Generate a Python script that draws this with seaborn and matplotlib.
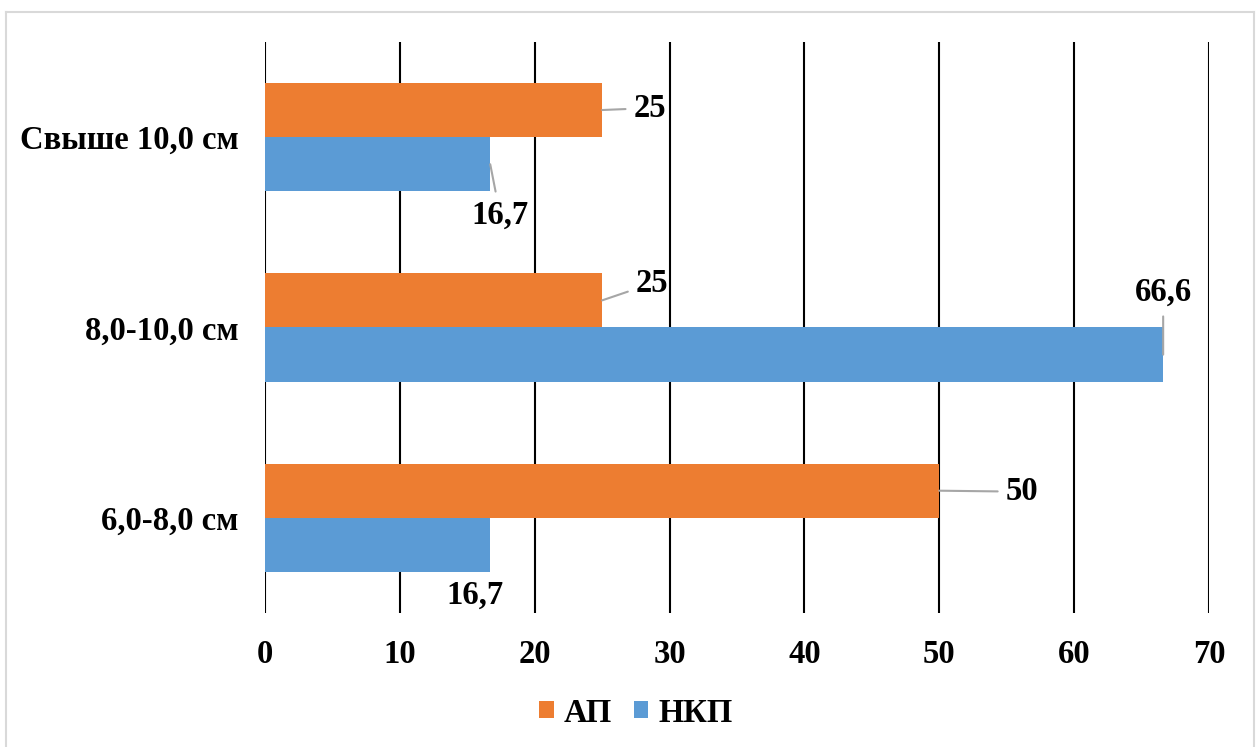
import pandas as pd
import matplotlib.pyplot as plt
import seaborn as sns
from matplotlib.patches import Patch

# data
categories = ["Свыше 10,0 см", "8,0-10,0 см", "6,0-8,0 см"]
series_names = ["АП", "НКП"]
ap_values = [25, 25, 50]
nkp_values = [16.7, 66.6, 16.7]
ap_labels = ["25", "25", "50"]
nkp_labels = ["16,7", "66,6", "16,7"]
x_ticks = [0, 10, 20, 30, 40, 50, 60, 70]

colors = {"АП": "#ED7D31", "НКП": "#5B9BD5"}

df = pd.DataFrame({
    "Категория": categories * 2,
    "Серия": [series_names[0]] * 3 + [series_names[1]] * 3,
    "Значение": ap_values + nkp_values,
})

plt.rcParams["font.family"] = ["Liberation Serif", "DejaVu Serif"]
plt.rcParams["font.weight"] = "bold"
FS = 23.5

fig = plt.figure(figsize=(12.59, 7.47), dpi=100)
ax = fig.add_axes([0.2105, 0.1794, 0.7498, 0.7644])

sns.barplot(
    data=df,
    x="Значение",
    y="Категория",
    hue="Серия",
    hue_order=series_names,
    order=categories,
    palette=colors,
    orient="h",
    width=0.57,
    saturation=1,
    errorbar=None,
    legend=False,
    ax=ax,
)

ax.set_xlim(0, 70)
ax.set_ylim(2.5, -0.5)
ax.set_xticks(x_ticks)
ax.set_xlabel("")
ax.set_ylabel("")
for s in ax.spines.values():
    s.set_visible(False)
ax.grid(axis="x", color="black", linewidth=1.5)
ax.set_axisbelow(True)
ax.tick_params(axis="x", length=0, pad=19, labelsize=FS)
ax.tick_params(axis="y", length=0, pad=19, labelsize=FS)
for t in ax.get_xticklabels() + ax.get_yticklabels():
    t.set_fontweight("bold")

# data labels: offsets in pixels (x right, y up) and whether a leader line is drawn
ap_offsets = [(48, 2, True), (50, 17, True), (83, -1, True)]
nkp_offsets = [(10, -51, True), (0, 62, True), (-15, -50, False)]

leader = dict(arrowstyle="-", color="#A6A6A6", lw=1.5, shrinkA=4, shrinkB=0)

for bar, lab, (dx, dy, line) in zip(ax.containers[0], ap_labels, ap_offsets):
    xe = bar.get_x() + bar.get_width()
    yc = bar.get_y() + bar.get_height() / 2
    ax.annotate(lab, xy=(xe, yc), xytext=(dx, dy), textcoords="offset pixels",
                ha="center", va="center", fontsize=FS, fontweight="bold",
                arrowprops=leader if line else None)

for bar, lab, (dx, dy, line) in zip(ax.containers[1], nkp_labels, nkp_offsets):
    xe = bar.get_x() + bar.get_width()
    yc = bar.get_y() + bar.get_height() / 2
    ax.annotate(lab, xy=(xe, yc), xytext=(dx, dy), textcoords="offset pixels",
                ha="center", va="center", fontsize=FS, fontweight="bold",
                arrowprops=leader if line else None)

handles = [Patch(facecolor=colors[n], edgecolor="none") for n in series_names]
fig.legend(handles, series_names, loc="center", bbox_to_anchor=(636 / 1259, 1 - 713 / 747),
           ncol=2, frameon=False, prop={"size": FS, "weight": "bold"},
           handlelength=0.43, handleheight=0.43, handletextpad=0.3, columnspacing=0.7)

# light border around the chart area
fig.add_artist(plt.Line2D([6 / 1259, 6 / 1259], [0, 1 - 12 / 747], color="#D9D9D9", lw=1.5, transform=fig.transFigure))
fig.add_artist(plt.Line2D([6 / 1259, 1254 / 1259], [1 - 12 / 747, 1 - 12 / 747], color="#D9D9D9", lw=1.5, transform=fig.transFigure))
fig.add_artist(plt.Line2D([1254 / 1259, 1254 / 1259], [0, 1 - 12 / 747], color="#D9D9D9", lw=1.5, transform=fig.transFigure))

fig.savefig("out.png", dpi=100)
